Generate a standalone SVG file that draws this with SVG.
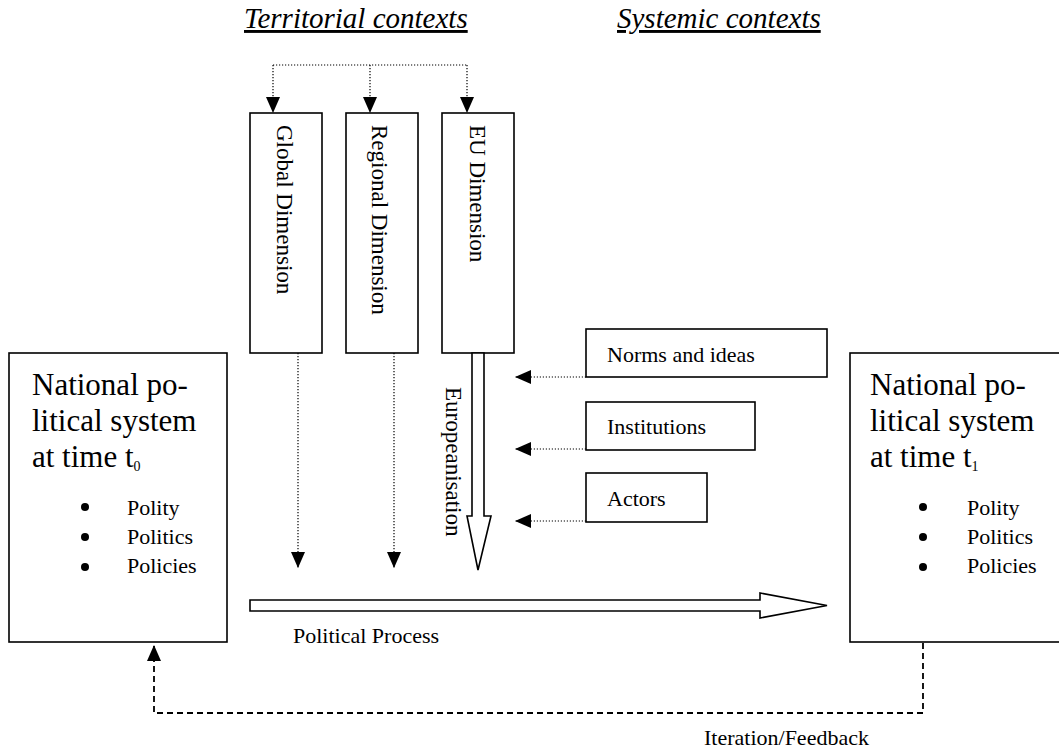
<svg xmlns="http://www.w3.org/2000/svg" width="1059" height="751" viewBox="0 0 1059 751">
<defs>
<style>
text{font-family:"Liberation Serif","Times New Roman",serif;fill:#000}
.title{font-size:29px;font-style:italic;text-decoration:underline}
.big{font-size:31px}
.sm{font-size:22px}
.dim{font-size:23px}
.box{fill:#fff;stroke:#000;stroke-width:1.6}
.dot{fill:none;stroke:#000;stroke-width:1.2;stroke-dasharray:1.2 1.8}
.dash{fill:none;stroke:#000;stroke-width:1.8;stroke-dasharray:6 4}
.block{fill:#fff;stroke:#000;stroke-width:1.6;stroke-linejoin:miter}
</style>
<marker id="ah" markerUnits="userSpaceOnUse" markerWidth="16" markerHeight="14" refX="16" refY="7" orient="auto" viewBox="0 0 16 14">
<path d="M0,0 L16,7 L0,14 z" fill="#000"/>
</marker>
</defs>
<rect width="1059" height="751" fill="#fff"/>

<g id="titles">
<text class="title" x="244" y="28">Territorial contexts</text>
<text class="title" x="617" y="28">Systemic contexts</text>
</g>

<g id="node-global">
<rect class="box" x="250" y="113" width="72" height="240"/>
<text class="dim" transform="translate(277,125) rotate(90)">Global Dimension</text>
</g>
<g id="node-regional">
<rect class="box" x="346" y="113" width="72" height="240"/>
<text class="dim" transform="translate(372,125) rotate(90)">Regional Dimension</text>
</g>
<g id="node-eu">
<rect class="box" x="442" y="113" width="72" height="240"/>
<text class="dim" transform="translate(470,125) rotate(90)">EU Dimension</text>
</g>

<g id="node-norms">
<rect class="box" x="586" y="329" width="241" height="48"/>
<text class="sm" x="607" y="362">Norms and ideas</text>
</g>
<g id="node-institutions">
<rect class="box" x="586" y="402" width="169" height="48"/>
<text class="sm" x="607" y="434">Institutions</text>
</g>
<g id="node-actors">
<rect class="box" x="586" y="473" width="121" height="49"/>
<text class="sm" x="607" y="506">Actors</text>
</g>

<g id="node-t0">
<rect class="box" x="9" y="353" width="218" height="289"/>
<text class="big" x="32" y="395">National po-</text>
<text class="big" x="32" y="431">litical system</text>
<text class="big" x="32" y="467">at time t<tspan font-size="14" dy="4">0</tspan></text>
<circle cx="85" cy="507" r="4"/>
<circle cx="85" cy="537" r="4"/>
<circle cx="85" cy="567" r="4"/>
<text class="sm" x="127" y="515">Polity</text>
<text class="sm" x="127" y="544">Politics</text>
<text class="sm" x="127" y="573">Policies</text>
</g>

<g id="node-t1">
<rect class="box" x="850" y="353" width="220" height="289"/>
<text class="big" x="870" y="395">National po-</text>
<text class="big" x="870" y="431">litical system</text>
<text class="big" x="870" y="467">at time t<tspan font-size="14" dy="4">1</tspan></text>
<circle cx="923" cy="507" r="4"/>
<circle cx="923" cy="537" r="4"/>
<circle cx="923" cy="567" r="4"/>
<text class="sm" x="967" y="515">Polity</text>
<text class="sm" x="967" y="544">Politics</text>
<text class="sm" x="967" y="573">Policies</text>
</g>

<g id="connectors">
<path class="dot" d="M273,65 H467"/>
<path class="dot" d="M273,65 V113" marker-end="url(#ah)"/>
<path class="dot" d="M370,65 V113" marker-end="url(#ah)"/>
<path class="dot" d="M467,65 V113" marker-end="url(#ah)"/>
<path class="dot" d="M298,353 V568" marker-end="url(#ah)"/>
<path class="dot" d="M394,353 V568" marker-end="url(#ah)"/>
<path class="dot" d="M586,377 H515" marker-end="url(#ah)"/>
<path class="dot" d="M586,449 H515" marker-end="url(#ah)"/>
<path class="dot" d="M586,521 H515" marker-end="url(#ah)"/>
<polygon class="block" points="472,353 484,353 484,516 491,516 478,570 467,516 472,516"/>
<text class="dim" transform="translate(446,387) rotate(90)">Europeanisation</text>
<polygon class="block" points="250,600 760,600 760,593 827,605.5 760,618 760,611 250,611"/>
<text class="sm" x="293" y="643">Political Process</text>
<path class="dash" d="M923,643 V713 H154 V645" marker-end="url(#ah)"/>
<text class="sm" x="704" y="745">Iteration/Feedback</text>
</g>
</svg>
